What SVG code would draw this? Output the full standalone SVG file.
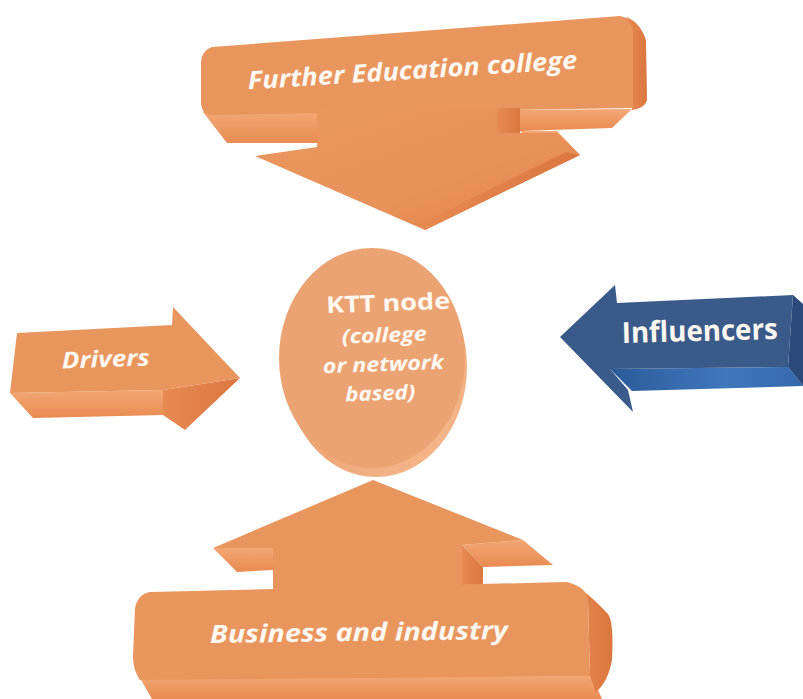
<svg xmlns="http://www.w3.org/2000/svg" width="803" height="699" viewBox="0 0 803 699">
  <defs>
    <linearGradient id="lightSide" x1="0" y1="0" x2="0" y2="1">
      <stop offset="0" stop-color="#F3A774"/>
      <stop offset="1" stop-color="#E88B52"/>
    </linearGradient>
    <linearGradient id="darkSide" x1="0" y1="0" x2="1" y2="0">
      <stop offset="0" stop-color="#E78A52"/>
      <stop offset="1" stop-color="#DA773F"/>
    </linearGradient>
    <linearGradient id="headShade" x1="0" y1="0" x2="1" y2="1">
      <stop offset="0" stop-color="#EA9860"/>
      <stop offset="0.6" stop-color="#E8915A"/>
      <stop offset="1" stop-color="#E08247"/>
    </linearGradient>
    <linearGradient id="blueLower" x1="0" y1="0" x2="1" y2="0">
      <stop offset="0" stop-color="#2C5A99"/>
      <stop offset="0.6" stop-color="#3F78BC"/>
      <stop offset="1" stop-color="#3569AD"/>
    </linearGradient>
    <linearGradient id="rim" x1="0" y1="0" x2="1" y2="1">
      <stop offset="0.4" stop-color="#ECA070"/>
      <stop offset="1" stop-color="#F7BC92"/>
    </linearGradient>
    <style>
      .face { fill: #E9955E; }
      .light { fill: url(#lightSide); }
      .dark { fill: url(#darkSide); }
      .blue { fill: #3A5A8A; }
      .blueDark { fill: #2B4A79; }
      .label { fill: #FFF8F0; font-family: "Open Sans", "Liberation Sans", sans-serif; font-weight: 700; }
      .it { font-style: italic; }
    </style>
  </defs>

  <!-- Top: Further Education college, pointing down -->
  <g id="further-education">
    <path class="light" d="M203,112 L227,143 L317,143 L317,113 Z"/>
    <path class="light" d="M520,110 L632,109 L612,128 L520,131 Z"/>
    <path class="dark" d="M626,17 Q640,22 646,40 L647,100 Q645,108 632,110 L628,30 Z"/>
    <path class="face" d="M212,47 L620,16 Q630,17 633,30 L633,108 L210,115 Q202,114 201,104 L201,62 Q202,50 212,47 Z"/>
    <path class="dark" d="M497,108 L520,108 L520,137 L497,137 Z"/>
    <path class="light" d="M520,131 L557,131 L580,155 L540,150 Z"/>
    <path fill="url(#headShade)" d="M317,110 L497,108 L497,133 L557,133 L580,155 L425,230 L255,156 L317,147 Z"/>
    <path class="dark" d="M580,155 L425,230 L420,224 L566,152 Z"/>
    <text class="label it" font-size="25" transform="translate(413,79) rotate(-3.6)" text-anchor="middle" textLength="330" lengthAdjust="spacingAndGlyphs">Further Education college</text>
  </g>

  <!-- Left: Drivers, pointing right -->
  <g id="drivers">
    <path class="light" d="M10,393 L163,390 L163,415 L33,418 Z"/>
    <path class="dark" d="M163,390 L240,378 L185,430 L163,415 Z"/>
    <path class="face" d="M17,333 L172,325 L173,307 L240,378 L163,390 L10,393 Z"/>
    <text class="label it" font-size="23" transform="translate(106,367) rotate(-2)" text-anchor="middle" textLength="88" lengthAdjust="spacingAndGlyphs">Drivers</text>
  </g>

  <!-- Right: Influencers, pointing left -->
  <g id="influencers">
    <path fill="url(#blueLower)" d="M610,369 L788,367 L803,386 L632,391 Z"/>
    <path class="blueDark" d="M793,295 L803,304 L803,386 L788,367 Z"/>
    <path class="blue" d="M560,337 L615,285 L617,303 L793,295 L788,367 L610,369 L628,390 L633,412 Z"/>
    <text class="label" font-size="29" transform="translate(700,341) rotate(-1.5)" text-anchor="middle" textLength="156" lengthAdjust="spacingAndGlyphs">Influencers</text>
  </g>

  <!-- Centre: KTT node -->
  <g id="ktt-node">
    <ellipse cx="376" cy="367" rx="91" ry="110" fill="url(#rim)"/>
    <ellipse cx="372" cy="358" rx="93" ry="110" fill="#ECA373"/>
    <g class="label" text-anchor="middle" transform="rotate(-2 388 355)">
      <text x="390" y="311" font-size="23" textLength="124" lengthAdjust="spacingAndGlyphs">KTT node</text>
      <text class="it" x="385" y="342" font-size="20" textLength="85" lengthAdjust="spacingAndGlyphs">(college</text>
      <text class="it" x="383" y="371" font-size="20" textLength="121" lengthAdjust="spacingAndGlyphs">or network</text>
      <text class="it" x="379" y="400" font-size="20" textLength="70" lengthAdjust="spacingAndGlyphs">based)</text>
    </g>
  </g>

  <!-- Bottom: Business and industry, pointing up -->
  <g id="business-industry">
    <path class="light" d="M213,548 L237,572 L273,570 L273,548 Z"/>
    <path class="light" d="M523,540 L553,565 L483,567 L462,545 Z"/>
    <path class="dark" d="M462,545 L483,567 L483,590 L462,590 Z"/>
    <path class="face" d="M373,480 L523,540 L462,545 L462,592 L273,592 L273,548 L213,548 Z"/>
    <path class="light" d="M140,678 L592,676 L602,699 L152,699 Z"/>
    <path class="dark" d="M566,582 Q580,584 608,614 Q614,622 612,660 Q608,682 596,692 L590,676 L588,600 Z"/>
    <path class="face" d="M150,592 L566,582 Q586,586 588,600 L590,676 L140,680 Q133,670 133,657 L135,608 Q138,594 150,592 Z"/>
    <text class="label it" font-size="25" transform="translate(359,641) rotate(-0.8)" text-anchor="middle" textLength="298" lengthAdjust="spacingAndGlyphs">Business and industry</text>
  </g>
</svg>
